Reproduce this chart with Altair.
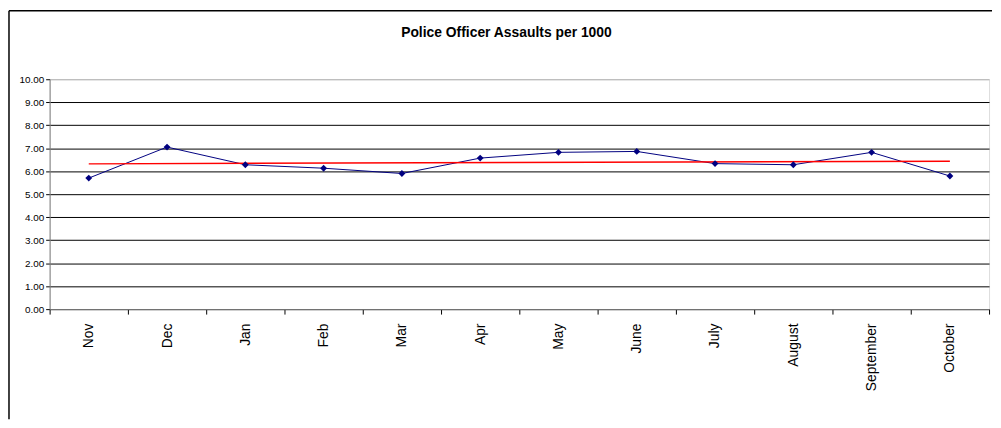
import altair as alt
import pandas as pd

months = ["Nov", "Dec", "Jan", "Feb", "Mar", "Apr", "May", "June",
          "July", "August", "September", "October"]
values = [5.70, 7.05, 6.28, 6.13, 5.90, 6.57, 6.82, 6.86, 6.33, 6.28, 6.82, 5.79]
y_ticks = [0, 1, 2, 3, 4, 5, 6, 7, 8, 9, 10]
title_text = "Police Officer Assaults per 1000"

df = pd.DataFrame({"month": months, "value": values, "idx": list(range(len(months)))})

W, H = 948, 232
LABEL_FONT = "Liberation Sans, Arial, sans-serif"

x_enc = alt.X(
    "month:N",
    sort=months,
    scale=alt.Scale(paddingInner=0, paddingOuter=0),
    axis=alt.Axis(
        title=None,
        labelAngle=270,
        labelFont=LABEL_FONT,
        labelFontSize=14,
        labelColor="black",
        labelPadding=9,
        tickBand="extent",
        tickSize=5,
        tickColor="#000000",
        domainColor="#808080",
        grid=False,
    ),
)
y_enc = alt.Y(
    "value:Q",
    scale=alt.Scale(domain=[0, 10], nice=False),
    axis=alt.Axis(
        title=None,
        values=y_ticks,
        format=".2f",
        labelFont=LABEL_FONT,
        labelFontSize=10,
        labelColor="black",
        labelPadding=2,
        tickSize=4,
        tickColor="#000000",
        domainColor="#808080",
        grid=True,
        gridColor={"condition": {"test": "datum.value === 10", "value": "#b0b0b0"}, "value": "#000000"},
        gridWidth=1,
        gridOpacity=1,
    ),
)

base = alt.Chart(df)

line = base.mark_line(color="#000080", strokeWidth=1).encode(x=x_enc, y=y_enc)
points = base.mark_point(shape="diamond", filled=True, size=48, color="#000080", opacity=1).encode(
    x=x_enc, y=y_enc
)
trend = (
    base.transform_regression("idx", "value")
    .transform_lookup(lookup="idx", from_=alt.LookupData(data=df, key="idx", fields=["month"]))
    .mark_line(color="#FF0000", strokeWidth=1.5)
    .encode(x=x_enc, y=y_enc)
)

frame_df = pd.DataFrame({"k": [0]})
frame_left = alt.Chart(frame_df).mark_rule(color="black", strokeWidth=1.5).encode(
    x=alt.value(-41), y=alt.value(-69), y2=alt.value(343)
)
frame_top = alt.Chart(frame_df).mark_rule(color="black", strokeWidth=1.5).encode(
    x=alt.value(-41), x2=alt.value(951), y=alt.value(-69)
)

chart = (
    alt.layer(line, trend, points, frame_left, frame_top)
    .properties(
        width=W,
        height=H,
        padding=0,
        title=alt.Title(
            title_text,
            font=LABEL_FONT,
            fontSize=14,
            fontWeight="bold",
            color="black",
            baseline="alphabetic",
            offset=-41,
            dx=-13,
        ),
    )
    .configure_view(stroke=None)
    .configure(background="white")
)

chart.save("out.html", embed_options={"renderer": "svg", "actions": False})
